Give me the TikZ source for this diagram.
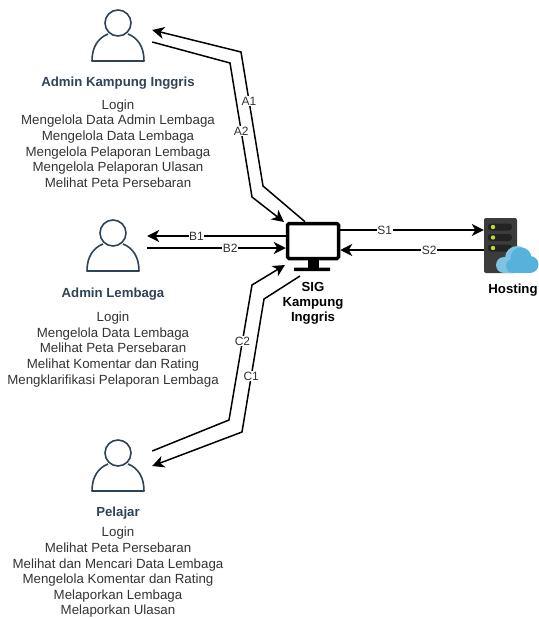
\documentclass[tikz,border=0pt]{standalone}
\usepackage{fontspec}
\setmainfont{Liberation Sans}
\usetikzlibrary{arrows.meta}
\definecolor{slate}{HTML}{2F4356}
\definecolor{rack}{HTML}{3C3C3C}
\definecolor{slot}{HTML}{232323}
\definecolor{led}{HTML}{C3D82E}
\definecolor{cloudA}{HTML}{7CC4E2}
\definecolor{cloudB}{HTML}{56B2DA}
\tikzset{
    actor/.style={minimum width=68pt,minimum height=52pt,inner sep=0pt},
    person/.pic={
        \draw[slate,line width=1.6pt] (0,-12) circle (13);
        \draw[slate,line width=1.6pt,line join=round] (-10,-1) .. controls (-20,3) and (-26,12) .. (-26,26)
            -- (26,26) .. controls (26,12) and (20,3) .. (10,-1);
    },
    title/.style={font=\bfseries\fontsize{13.2}{15.6}\selectfont,text=slate,align=center,inner sep=0pt},
    info/.style={font=\fontsize{13.3}{15.6}\selectfont,text=black!80,align=center,inner sep=0pt},
    sysname/.style={font=\bfseries\fontsize{13.2}{15.2}\selectfont,align=center,inner sep=0pt},
    link/.style={line width=1.5pt,-{Stealth[length=12pt,width=12pt,inset=3.5pt]}},
    tag/.style={fill=white,font=\fontsize{12}{14}\selectfont,text=black!80,inner sep=0.5pt}
}
\begin{document}
\begin{tikzpicture}[x=1pt,y=-1pt]
    \useasboundingbox (0,0) rectangle (538,618);

    % actors
    \node[actor] (kampung) at (118,35) {};
    \node[actor] (lembaga) at (113,245) {};
    \node[actor] (pelajar) at (118,465) {};
    \pic at (kampung) {person};
    \pic at (lembaga) {person};
    \pic at (pelajar) {person};

    \node[title] (tkampung) at (118,83) {Admin Kampung Inggris};
    \node[info] (ikampung) at (118,143.5) {Login\\Mengelola Data Admin Lembaga\\Mengelola Data Lembaga\\Mengelola Pelaporan Lembaga\\Mengelola Pelaporan Ulasan\\Melihat Peta Persebaran};
    \node[title] (tlembaga) at (113,294) {Admin Lembaga};
    \node[info] (ilembaga) at (113,349.5) {Login\\Mengelola Data Lembaga\\Melihat Peta Persebaran\\Melihat Komentar dan Rating\\Mengklarifikasi Pelaporan Lembaga};
    \node[title] (tpelajar) at (118,513) {Pelajar};
    \node[info] (ipelajar) at (118,572.5) {Login\\Melihat Peta Persebaran\\Melihat dan Mencari Data Lembaga\\Mengelola Komentar dan Rating\\Melaporkan Lembaga\\Melaporkan Ulasan};

    % monitor
    \node[draw,line width=3.5pt,rounded corners=1.5pt,minimum width=51pt,minimum height=35pt,inner sep=0pt] (sig) at (313,241) {};
    \fill (308,260) rectangle (319,268);
    \fill[rounded corners=0.5pt] (294,267.5) rectangle (330,271);
    \node[sysname] (tsig) at (313,303) {SIG\\Kampung\\Inggris};

    % server and cloud
    \node[fill=rack,rounded corners=2pt,minimum width=33pt,minimum height=55pt,inner sep=0pt] (hosting) at (500.5,245.5) {};
    \foreach \y in {227,237.5,248} {
        \fill[slot,rounded corners=3pt] (488,\y-3.5) rectangle (512,\y+3.5);
        \fill[led] (493,\y) circle (2.2);
    }
    \fill[cloudA] (504,265) circle (8);
    \fill[cloudA] (505,262) rectangle (517,273);
    \fill[cloudA] (517,258) circle (12);
    \fill[cloudB] (521,258) circle (10.5);
    \fill[cloudB] (530,264.5) circle (8.5);
    \fill[cloudB] (513,266) circle (7);
    \fill[cloudB] (513,264) rectangle (530,273);
    \node[sysname] (thosting) at (513,290) {Hosting};

    % bends of the connectors
    \coordinate (a1b) at (263,186);
    \coordinate (a1c) at (241,52);
    \coordinate (a2b) at (230,63);
    \coordinate (a2c) at (252,197);
    \coordinate (a2d) at (284,222);
    \coordinate (c1a) at (300,276);
    \coordinate (c1b) at (264,299);
    \coordinate (c1c) at (242,432);
    \coordinate (c2b) at (229,420);
    \coordinate (c2c) at (252,285);
    \coordinate (c2d) at (285,265);

    \draw[link] ([xshift=-8pt]sig.north) -- (a1b) -- node[tag,pos=0.634] (la1) {A1} (a1c) -- ([yshift=5pt]kampung.east);
    \draw[link] ([yshift=-7pt]kampung.east) -- (a2b) -- node[tag,pos=0.507] (la2) {A2} (a2c) -- (a2d);
    \draw[link] ([yshift=5pt]sig.west) -- node[tag,pos=0.645] (lb1) {B1} ([yshift=9pt]lembaga.east);
    \draw[link] ([yshift=-3pt]lembaga.east) -- node[tag,pos=0.6] (lb2) {B2} ([yshift=-7pt]sig.west);
    \draw[link] (c1a) -- (c1b) -- node[tag,pos=0.58] (lc1) {C1} (c1c) -- ([yshift=-1pt]pelajar.east);
    \draw[link] ([yshift=14pt]pelajar.east) -- (c2b) -- node[tag,pos=0.585] (lc2) {C2} (c2c) -- (c2d);
    \draw[link] ([yshift=11pt]sig.east) -- node[tag,pos=0.31] (ls1) {S1} ([yshift=15.5pt]hosting.west);
    \draw[link] ([yshift=-4.5pt]hosting.west) -- node[tag,pos=0.38] (ls2) {S2} ([yshift=-9pt]sig.east);
\end{tikzpicture}
\end{document}
